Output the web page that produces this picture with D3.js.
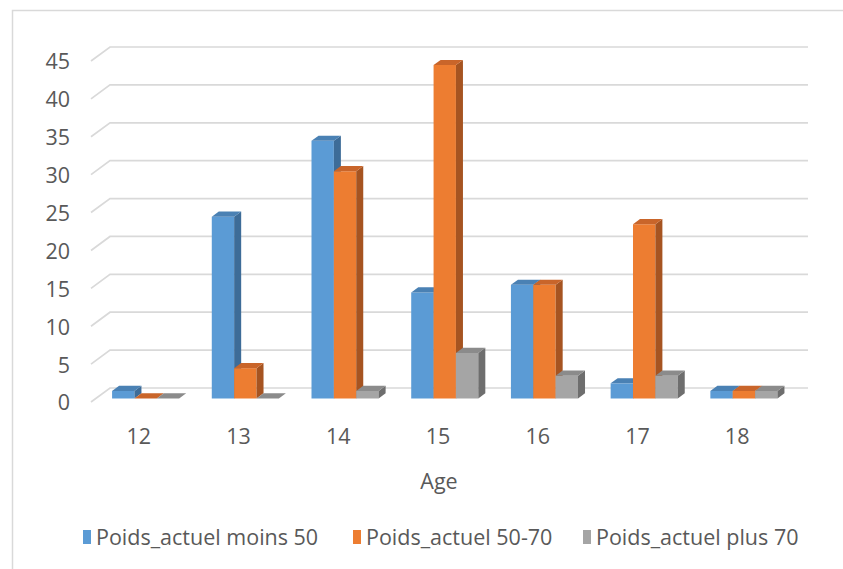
<!DOCTYPE html>
<html>
<head>
<meta charset="utf-8">
<script src="https://cdn.jsdelivr.net/npm/d3@7/dist/d3.min.js"></script>
<style>
  html, body { margin: 0; padding: 0; background: #ffffff; }
  svg { display: block; }
  text { font-family: "Open Sans", Lato, sans-serif; fill: #595959; }
</style>
</head>
<body>
<svg id="chart" width="843" height="569"></svg>
<script>
// Ages on the category axis
const categories = ["12", "13", "14", "15", "16", "17", "18"];
// Series names (legend order)
const seriesNames = ["Poids_actuel moins 50", "Poids_actuel 50-70", "Poids_actuel plus 70"];
// Counts per age for each weight group
const moins50 = [1, 24, 34, 14, 15, 2, 1];
const entre50et70 = [0, 4, 30, 44, 15, 23, 1];
const plus70 = [0, 0, 1, 6, 3, 3, 1];
// Value axis ticks
const yTicks = [0, 5, 10, 15, 20, 25, 30, 35, 40, 45];
const xTitle = "Age";

const seriesValues = [moins50, entre50et70, plus70];
const faceColors = [
  { front: "#5b9bd5", top: "#4a81b4", side: "#3d6c98" },
  { front: "#ed7d31", top: "#c9652a", side: "#a65421" },
  { front: "#a5a5a5", top: "#8b8b8b", side: "#6e6e6e" }
];
const fontSize = "21.5px";

const svg = d3.select("#chart");

// Chart frame
svg.append("rect")
  .attr("x", 12.5).attr("y", 10.5)
  .attr("width", 900).attr("height", 700)
  .attr("fill", "none").attr("stroke", "#d9d9d9").attr("stroke-width", 1.5);

// Oblique 3D projection: depth z in [0,1] shifts right and up
const depthDx = 19, depthDy = 14;
const x = d3.scaleBand().domain(categories).range([91, 789]);
const xs = d3.scaleBand().domain(seriesNames).range([0, x.bandwidth()])
  .paddingInner(0).paddingOuter(0.73);
const y = d3.scaleLinear().domain([0, 45]).range([402, 61]);
const proj = (px, v, z) => [px + z * depthDx, y(v) - z * depthDy];

// Walls: gridlines on the side wall (diagonal) and back wall (horizontal)
const grid = svg.append("g").attr("class", "grid");
const [x0Floor, x1Floor] = x.range();
yTicks.forEach(t => {
  const a = proj(x0Floor, t, 0), b = proj(x0Floor, t, 1), c = proj(x1Floor, t, 1);
  grid.append("polyline")
    .attr("points", [a, b, c].map(p => p.join(",")).join(" "))
    .attr("fill", "none").attr("stroke", "#d9d9d9").attr("stroke-width", 1.7);
});

// Value axis labels
const yAxis = d3.axisLeft(y).tickValues(yTicks).tickSize(0).tickPadding(0);
const yAxisG = svg.append("g").attr("transform", "translate(70,1)").call(yAxis);
yAxisG.select(".domain").remove();
yAxisG.attr("font-family", null).attr("font-size", null);
yAxisG.selectAll("text")
  .style("font-size", fontSize).style("fill", "#595959");

// 3D columns, drawn left to right so nearer right neighbours overlap side faces
const z0 = 0.25, z1 = 0.62;
const bars = svg.append("g").attr("class", "bars");
const poly = pts => pts.map(p => p.join(",")).join(" ");
categories.forEach((cat, ci) => {
  seriesNames.forEach((s, si) => {
    const v = seriesValues[si][ci];
    const bx0 = x(cat) + xs(s), bx1 = bx0 + xs.bandwidth();
    const col = faceColors[si];
    const g = bars.append("g");
    // front face
    g.append("polygon")
      .attr("points", poly([proj(bx0, 0, z0), proj(bx1, 0, z0), proj(bx1, v, z0), proj(bx0, v, z0)]))
      .attr("fill", col.front);
    // side face
    g.append("polygon")
      .attr("points", poly([proj(bx1, 0, z0), proj(bx1, 0, z1), proj(bx1, v, z1), proj(bx1, v, z0)]))
      .attr("fill", col.side);
    // top face
    g.append("polygon")
      .attr("points", poly([proj(bx0, v, z0), proj(bx1, v, z0), proj(bx1, v, z1), proj(bx0, v, z1)]))
      .attr("fill", col.top);
  });
});

// Category axis labels
const xAxis = d3.axisBottom(x).tickSize(0).tickPadding(0);
const xAxisG = svg.append("g").attr("transform", "translate(-2,436)").call(xAxis);
xAxisG.select(".domain").remove();
xAxisG.attr("font-family", null).attr("font-size", null);
xAxisG.selectAll("text").attr("dy", "0.35em").attr("y", 0)
  .style("font-size", fontSize).style("fill", "#595959");

// Axis title
svg.append("text")
  .attr("x", 439).attr("y", 481).attr("dy", "0.35em")
  .attr("text-anchor", "middle")
  .style("font-size", fontSize)
  .text(xTitle);

// Legend
const legendX = [83, 353, 583];
const legend = svg.append("g").attr("class", "legend");
seriesNames.forEach((s, i) => {
  legend.append("rect")
    .attr("x", legendX[i]).attr("y", 530)
    .attr("width", 8).attr("height", 14)
    .attr("fill", faceColors[i].front);
  legend.append("text")
    .attr("x", legendX[i] + 13).attr("y", 537).attr("dy", "0.35em")
    .style("font-size", fontSize)
    .text(s);
});
</script>
</body>
</html>
